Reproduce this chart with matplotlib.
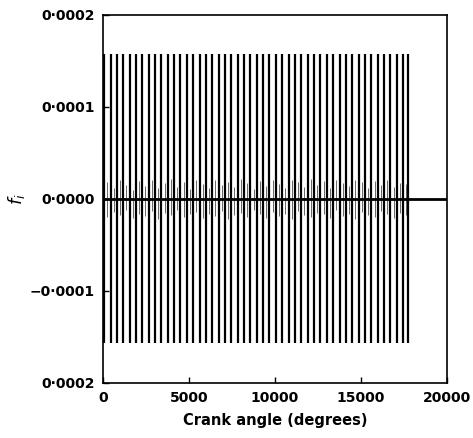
import matplotlib
matplotlib.use('Agg')
from matplotlib import pyplot as plt

# crank angle of each spike (degrees) and its peak value
spike_angle = [60, 430, 795, 1170, 1540, 1905, 2280, 2650, 3015, 3390, 3760, 4125,
               4500, 4870, 5235, 5610, 5980, 6345, 6720, 7090, 7455, 7830, 8200, 8565,
               8940, 9310, 9675, 10050, 10420, 10785, 11160, 11530, 11895, 12270, 12640,
               13005, 13380, 13750, 14115, 14490, 14860, 15225, 15600, 15970, 16335,
               16710, 17080, 17445, 17760]
spike_top = [0.000157] * len(spike_angle)
spike_bot = [-0.000157] * len(spike_angle)

# small ripple between the spikes, close to zero
ripple_angle = [245, 615, 980, 1355, 1720, 2090, 2465, 2830, 3200, 3575, 3940, 4310,
                4685, 5050, 5420, 5795, 6160, 6530, 6905, 7270, 7640, 8015, 8380, 8750,
                9125, 9490, 9860, 10235, 10600, 10970, 11345, 11710, 12080, 12455, 12820,
                13190, 13565, 13930, 14300, 14675, 15040, 15410, 15785, 16150, 16520,
                16895, 17260, 17600]
ripple_top = [0.000018, 0.000012, 0.000020, 0.000015, 0.000010, 0.000019, 0.000014, 0.000021,
              0.000012, 0.000017, 0.000022, 0.000013, 0.000018, 0.000011, 0.000020, 0.000016,
              0.000012, 0.000021, 0.000015, 0.000018, 0.000013, 0.000022, 0.000017, 0.000011,
              0.000019, 0.000014, 0.000020, 0.000016, 0.000012, 0.000021, 0.000018, 0.000013,
              0.000022, 0.000015, 0.000019, 0.000012, 0.000020, 0.000017, 0.000014, 0.000021,
              0.000018, 0.000012, 0.000019, 0.000015, 0.000020, 0.000013, 0.000017, 0.000016]
ripple_bot = [-0.000020, -0.000014, -0.000018, -0.000012, -0.000021, -0.000016, -0.000019,
              -0.000013, -0.000022, -0.000015, -0.000018, -0.000012, -0.000020, -0.000017,
              -0.000014, -0.000021, -0.000016, -0.000019, -0.000013, -0.000022, -0.000018,
              -0.000015, -0.000020, -0.000012, -0.000017, -0.000021, -0.000014, -0.000019,
              -0.000016, -0.000022, -0.000013, -0.000018, -0.000020, -0.000015, -0.000017,
              -0.000021, -0.000012, -0.000019, -0.000016, -0.000022, -0.000014, -0.000018,
              -0.000020, -0.000013, -0.000017, -0.000021, -0.000015, -0.000018]

xticks = [0, 5000, 10000, 15000, 20000]
xlabels = ['0', '5000', '10000', '15000', '20000']
yticks = [-0.0002, -0.0001, 0.0, 0.0001, 0.0002]
ylabels = ['0·0002', '−0·0001', '0·0000', '0·0001', '0·0002']

fig = plt.figure(figsize=(4.73, 4.38), dpi=100)
ax = fig.add_axes([0.218, 0.126, 0.727, 0.840])

ax.vlines(spike_angle, spike_bot, spike_top, colors='black', linewidth=1.6)
ax.vlines(ripple_angle, ripple_bot, ripple_top, colors='black', linewidth=0.7, alpha=0.6)
ax.axhline(0.0, color='black', linewidth=2.0)

ax.set_xlim(0, 20000)
ax.set_ylim(-0.0002, 0.0002)
ax.set_xticks(xticks)
ax.set_xticklabels(xlabels, fontsize=10, fontweight='bold')
ax.set_yticks(yticks)
ax.set_yticklabels(ylabels, fontsize=10, fontweight='bold')
ax.tick_params(direction='in', length=4, width=1, pad=6)
for s in ax.spines.values():
    s.set_linewidth(1.2)

ax.set_xlabel('Crank angle (degrees)', fontsize=10.5, fontweight='bold', labelpad=6)
ax.set_ylabel(r'$f_i$', fontsize=13, labelpad=2)

fig.savefig('out.png', dpi=100)
